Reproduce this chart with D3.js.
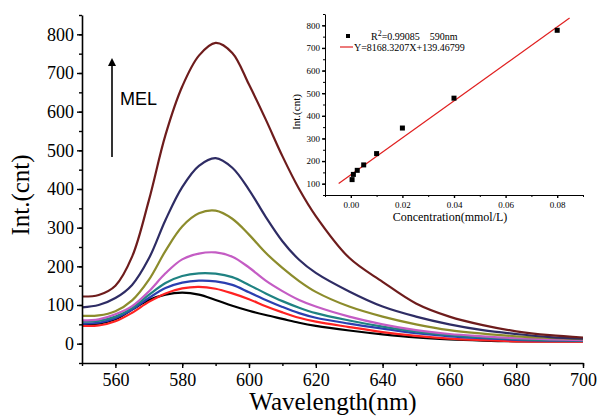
<!DOCTYPE html>
<html>
<head>
<meta charset="utf-8">
<script src="https://cdn.jsdelivr.net/npm/d3@7"></script>
<style>
  body { margin: 0; background: #fff; }
</style>
</head>
<body>
<div id="chart"></div>
<script>
var SERIF = "'Liberation Serif', 'Times New Roman', serif";

// wavelengths (nm)
var wavelengths = [550, 555, 560, 565, 570, 575, 580, 585, 590, 595, 600, 605, 610, 615, 620, 630, 640, 650, 660, 670, 680, 690, 700];

// spectra, lowest to highest MEL concentration
var specBlack   = [50, 52, 63, 88, 113, 127, 132, 127, 113, 98, 85, 74, 64, 54, 46, 34, 24, 16, 11, 8, 6, 6, 6];
var specRed     = [46, 47, 58, 80, 108, 130, 143, 147, 142, 130, 115, 97, 81, 67, 57, 43, 30, 20, 13, 9, 6, 5, 5];
var specBlue    = [52, 54, 66, 88, 118, 144, 158, 163, 161, 152, 133, 113, 95, 79, 67, 52, 39, 27, 19, 14, 10, 8, 7];
var specTeal    = [57, 59, 70, 92, 126, 157, 175, 182, 181, 172, 152, 130, 110, 93, 79, 60, 44, 31, 22, 16, 12, 9, 8];
var specMagenta = [60, 63, 76, 97, 135, 182, 218, 233, 236, 225, 197, 163, 136, 113, 96, 70, 50, 35, 25, 19, 14, 11, 9];
var specOlive   = [72, 73, 84, 112, 165, 240, 303, 337, 344, 323, 282, 235, 196, 162, 134, 96, 70, 50, 35, 26, 19, 15, 12];
var specNavy    = [94, 100, 118, 152, 220, 320, 405, 460, 480, 455, 398, 328, 265, 217, 183, 135, 96, 70, 50, 35, 25, 17, 13];
var specMaroon  = [122, 126, 150, 225, 370, 540, 665, 745, 778, 752, 670, 580, 485, 400, 330, 222, 160, 104, 70, 48, 32, 22, 16];

var seriesColours = ['#000000', '#ff2222', '#2b3fb0', '#1f8282', '#c45cc4', '#8c8c2c', '#2e2c64', '#6e1c1c'];

// inset: intensity at 590nm vs concentration
var concentrations = [0.0005, 0.001, 0.0025, 0.005, 0.01, 0.02, 0.04, 0.08];
var intensities    = [118, 141, 159, 183, 233, 346, 478, 778];
var fitSlope = 8168.3207, fitIntercept = 139.46799;
var fitRange = [-0.0047, 0.0848];

var mainXTicks = [560, 580, 600, 620, 640, 660, 680, 700];
var mainYTicks = [0, 100, 200, 300, 400, 500, 600, 700, 800];
var insetXTicks = [0, 0.02, 0.04, 0.06, 0.08];
var insetYTicks = [100, 200, 300, 400, 500, 600, 700, 800];

var svg = d3.select('#chart')
    .append('svg')
    .attr('width', 599)
    .attr('height', 419);

// main plot
var x = d3.scaleLinear().domain([550, 700]).range([82, 583]);
var y = d3.scaleLinear().domain([-50, 850]).range([363, 15]);

var spectra = [specBlack, specRed, specBlue, specTeal, specMagenta, specOlive, specNavy, specMaroon];

var line = d3.line()
    .x(function(d, i) { return x(wavelengths[i]); })
    .y(function(d) { return y(d); })
    .curve(d3.curveCatmullRom.alpha(0.5));

svg.selectAll('.spectrum')
    .data(spectra)
    .enter().append('path')
    .attr('class', 'spectrum')
    .attr('d', line)
    .style('fill', 'none')
    .style('stroke', function(d, i) { return seriesColours[i]; })
    .style('stroke-width', 2.2);

function styleAxis(g, fontSize) {
    g.attr('font-family', null);
    g.select('.domain').style('stroke', '#000').style('stroke-width', 1.6);
    g.selectAll('.tick line').style('stroke', '#000').style('stroke-width', 1.4);
    g.selectAll('.tick text')
        .style('font-family', SERIF)
        .style('font-size', fontSize + 'px')
        .style('fill', '#000');
}

var xAxis = svg.append('g')
    .attr('transform', 'translate(0,' + 363 + ')')
    .call(d3.axisBottom(x).tickValues(mainXTicks).tickSize(5).tickSizeOuter(0).tickPadding(5));
styleAxis(xAxis, 18);

svg.append('g')
    .attr('transform', 'translate(0,' + 363 + ')')
    .call(d3.axisBottom(x).tickValues(d3.range(550, 701, 10)).tickSize(3).tickFormat(''))
    .call(function(g) { g.select('.domain').remove(); g.selectAll('line').style('stroke-width', 1.4); });

var yAxis = svg.append('g')
    .attr('transform', 'translate(' + 82 + ',0)')
    .call(d3.axisLeft(y).tickValues(mainYTicks).tickSize(5).tickSizeOuter(0).tickPadding(3));
styleAxis(yAxis, 18);

svg.append('g')
    .attr('transform', 'translate(' + 82 + ',0)')
    .call(d3.axisLeft(y).tickValues(d3.range(-50, 851, 50)).tickSize(3).tickFormat(''))
    .call(function(g) { g.select('.domain').remove(); g.selectAll('line').style('stroke-width', 1.4); });

svg.append('text')
    .attr('x', 333)
    .attr('y', 410)
    .attr('text-anchor', 'middle')
    .style('font-family', SERIF)
    .style('font-size', '25px')
    .text('Wavelength(nm)');

svg.append('text')
    .attr('transform', 'translate(29,195) rotate(-90)')
    .attr('text-anchor', 'middle')
    .style('font-family', SERIF)
    .style('font-size', '25px')
    .text('Int.(cnt)');

// MEL arrow
var defs = svg.append('defs');
defs.append('marker')
    .attr('id', 'arrow')
    .attr('viewBox', '0 0 10 10')
    .attr('refX', 5).attr('refY', 5)
    .attr('markerWidth', 5).attr('markerHeight', 6)
    .attr('orient', 'auto')
    .append('path')
    .attr('d', 'M0,0 L10,5 L0,10 z')
    .style('fill', '#000');

svg.append('line')
    .attr('x1', 112).attr('y1', 157)
    .attr('x2', 112).attr('y2', 62)
    .style('stroke', '#000')
    .style('stroke-width', 1.6)
    .attr('marker-end', 'url(#arrow)');

svg.append('text')
    .attr('x', 120)
    .attr('y', 105)
    .style('font-family', "'Liberation Sans', Arial, sans-serif")
    .style('font-size', '18px')
    .text('MEL');

// inset
var ix = d3.scaleLinear().domain([-0.01, 0.09]).range([325, 583]);
var iy = d3.scaleLinear().domain([50, 850]).range([195, 14]);

svg.append('rect')
    .attr('x', 326).attr('y', 12)
    .attr('width', 260).attr('height', 182)
    .style('fill', '#fff');

svg.append('line')
    .attr('x1', ix(fitRange[0])).attr('y1', iy(fitSlope * fitRange[0] + fitIntercept))
    .attr('x2', ix(fitRange[1])).attr('y2', iy(fitSlope * fitRange[1] + fitIntercept))
    .style('stroke', '#e02020')
    .style('stroke-width', 1.2);

svg.selectAll('.inset-point')
    .data(concentrations)
    .enter().append('rect')
    .attr('class', 'inset-point')
    .attr('x', function(d) { return ix(d) - 2.5; })
    .attr('y', function(d, i) { return iy(intensities[i]) - 2.5; })
    .attr('width', 5).attr('height', 5)
    .style('fill', '#000');

var ixAxis = svg.append('g')
    .attr('transform', 'translate(0,' + 195 + ')')
    .call(d3.axisBottom(ix).tickValues(insetXTicks).tickSize(3).tickSizeOuter(0).tickPadding(4)
        .tickFormat(d3.format('.2f')));
styleAxis(ixAxis, 9);
ixAxis.select('.domain').style('stroke-width', 1);

svg.append('g')
    .attr('transform', 'translate(0,' + 195 + ')')
    .call(d3.axisBottom(ix).tickValues([-0.01, 0.01, 0.03, 0.05, 0.07, 0.09]).tickSize(2).tickFormat(''))
    .call(function(g) { g.select('.domain').remove(); });

var iyAxis = svg.append('g')
    .attr('transform', 'translate(' + 325 + ',0)')
    .call(d3.axisLeft(iy).tickValues(insetYTicks).tickSize(3).tickSizeOuter(0).tickPadding(2));
styleAxis(iyAxis, 9);
iyAxis.select('.domain').style('stroke-width', 1);

svg.append('g')
    .attr('transform', 'translate(' + 325 + ',0)')
    .call(d3.axisLeft(iy).tickValues(d3.range(50, 851, 50)).tickSize(2).tickFormat(''))
    .call(function(g) { g.select('.domain').remove(); });

svg.append('text')
    .attr('x', 450)
    .attr('y', 221)
    .attr('text-anchor', 'middle')
    .style('font-family', SERIF)
    .style('font-size', '12px')
    .text('Concentration(mmol/L)');

svg.append('text')
    .attr('transform', 'translate(300,112) rotate(-90)')
    .attr('text-anchor', 'middle')
    .style('font-family', SERIF)
    .style('font-size', '11px')
    .text('Int.(cnt)');

// inset legend
svg.append('rect')
    .attr('x', 346).attr('y', 34)
    .attr('width', 4).attr('height', 4)
    .style('fill', '#000');

var r2 = svg.append('text')
    .attr('x', 371)
    .attr('y', 40)
    .style('font-family', SERIF)
    .style('font-size', '10px')
    .style('white-space', 'pre');
r2.append('tspan').text('R');
r2.append('tspan').attr('dy', -4).style('font-size', '8px').text('2');
r2.append('tspan').attr('dy', 4).text('=0.99085    590nm');

svg.append('line')
    .attr('x1', 340).attr('y1', 47)
    .attr('x2', 353).attr('y2', 47)
    .style('stroke', '#e02020')
    .style('stroke-width', 1.2);

svg.append('text')
    .attr('x', 354)
    .attr('y', 51)
    .style('font-family', SERIF)
    .style('font-size', '10px')
    .text('Y=8168.3207X+139.46799');
</script>
</body>
</html>
